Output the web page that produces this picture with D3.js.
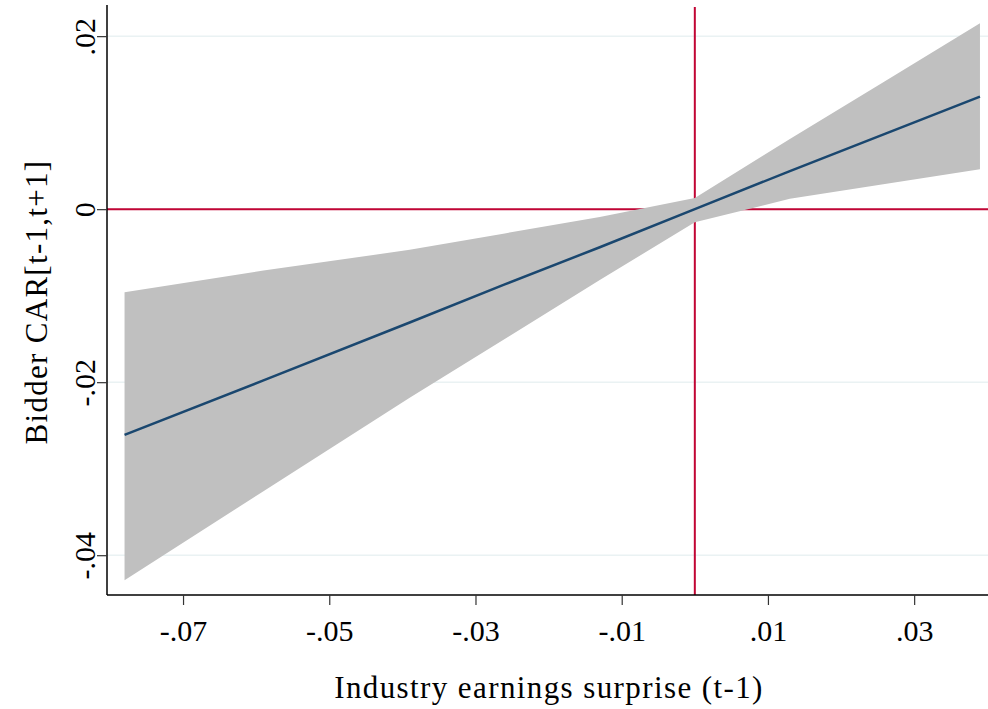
<!DOCTYPE html>
<html>
<head>
<meta charset="utf-8">
<script src="https://cdn.jsdelivr.net/npm/d3@7"></script>
<style>
  body { margin: 0; background: #fff; }
  text { font-family: "Liberation Serif", "DejaVu Serif", serif; fill: #000; }
</style>
</head>
<body>
<div id="chart"></div>
<script>
// data
const surprise = [-0.078, -0.059, -0.039, -0.026, -0.013, 0, 0.013, 0.026, 0.039];
const carFit   = [-0.0261, -0.0198, -0.0131, -0.0087, -0.0044, 0.0000, 0.0044, 0.0087, 0.0130];
const carUpper = [-0.0096, -0.0071, -0.0047, -0.0028, -0.0009, 0.0013, 0.0081, 0.0148, 0.0215];
const carLower = [-0.0429, -0.0326, -0.0218, -0.0150, -0.0082, -0.0015, 0.0012, 0.0029, 0.0046];
const xTicks = [-0.07, -0.05, -0.03, -0.01, 0.01, 0.03];
const yTicks = [-0.04, -0.02, 0, 0.02];

const W = 988, H = 709;
const plot = { left: 107, right: 988, top: 5, bottom: 595 };

const x = d3.scaleLinear().domain([-0.0804, 0.0401]).range([plot.left, plot.right]);
const y = d3.scaleLinear().domain([-0.0446, 0.0236]).range([plot.bottom, plot.top]);

// stata style labels: -.07, .02, 0
const fmt = v => v === 0 ? "0" : d3.format(".2f")(v).replace("\u2212", "-").replace("0.", ".");

const svg = d3.select("#chart").append("svg")
    .attr("width", W)
    .attr("height", H);

const data = surprise.map((s, i) => ({ s: s, fit: carFit[i], hi: carUpper[i], lo: carLower[i] }));

// gridlines
svg.append("g").selectAll("line")
  .data(yTicks)
  .join("line")
    .attr("x1", plot.left).attr("x2", plot.right)
    .attr("y1", d => y(d)).attr("y2", d => y(d))
    .attr("stroke", "#eaf2f3")
    .attr("stroke-width", 1.5);

// reference lines at zero
svg.append("line")
    .attr("x1", plot.left).attr("x2", plot.right)
    .attr("y1", y(0)).attr("y2", y(0))
    .attr("stroke", "#c10534").attr("stroke-width", 2);
svg.append("line")
    .attr("x1", x(0)).attr("x2", x(0))
    .attr("y1", plot.top + 2).attr("y2", plot.bottom)
    .attr("stroke", "#c10534").attr("stroke-width", 2);

// confidence band
const area = d3.area()
    .x(d => x(d.s))
    .y0(d => y(d.lo))
    .y1(d => y(d.hi));
svg.append("path")
    .datum(data)
    .attr("fill", "#c0c0c0")
    .attr("d", area);

// fitted line
const line = d3.line()
    .x(d => x(d.s))
    .y(d => y(d.fit));
svg.append("path")
    .datum(data)
    .attr("fill", "none")
    .attr("stroke", "#1a476f")
    .attr("stroke-width", 2.5)
    .attr("d", line);

// x axis
const xAxis = svg.append("g")
    .attr("transform", `translate(0,${plot.bottom})`)
    .call(d3.axisBottom(x).tickValues(xTicks).tickFormat(fmt).tickSize(10).tickSizeOuter(0).tickPadding(15));
xAxis.select(".domain").attr("stroke", "#000").attr("stroke-width", 1.5)
    .attr("d", `M${plot.left},0H${plot.right}`);
xAxis.selectAll(".tick line").attr("stroke", "#333").attr("stroke-width", 1.2);
xAxis.selectAll(".tick text")
    .style("font-size", "30px")
    .style("font-family", "'Liberation Serif', serif")
    .attr("fill", "#000");

// y axis
const yAxis = svg.append("g")
    .attr("transform", `translate(${plot.left},0)`)
    .call(d3.axisLeft(y).tickValues(yTicks).tickFormat(fmt).tickSize(10).tickSizeOuter(0));
yAxis.select(".domain").attr("stroke", "#000").attr("stroke-width", 1.5)
    .attr("d", `M0,${plot.top}V${plot.bottom}`);
yAxis.selectAll(".tick line").attr("stroke", "#333").attr("stroke-width", 1.2);
yAxis.selectAll(".tick text")
    .attr("x", null).attr("dy", null)
    .attr("transform", "translate(-12,0) rotate(-90)")
    .attr("text-anchor", "middle")
    .style("font-size", "30px")
    .style("font-family", "'Liberation Serif', serif")
    .attr("fill", "#000");

// axis titles
svg.append("text")
    .attr("x", 549)
    .attr("y", 698)
    .attr("text-anchor", "middle")
    .style("font-size", "31px")
    .style("letter-spacing", "1.4px")
    .text("Industry earnings surprise (t-1)");

svg.append("text")
    .attr("transform", "translate(47,302) rotate(-90)")
    .attr("text-anchor", "middle")
    .style("font-size", "31px")
    .style("letter-spacing", "1.3px")
    .text("Bidder CAR[t-1,t+1]");
</script>
</body>
</html>
